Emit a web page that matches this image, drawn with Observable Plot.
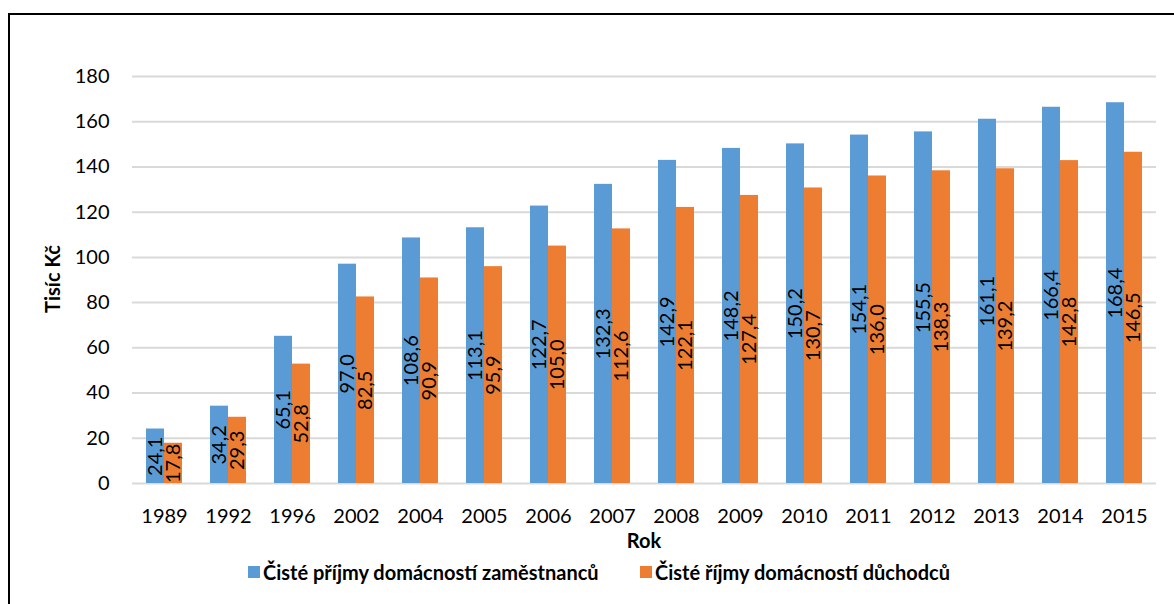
<!DOCTYPE html>
<html>
<head>
<meta charset="utf-8">
<script src="https://cdn.jsdelivr.net/npm/d3@7"></script>
<script src="https://cdn.jsdelivr.net/npm/@observablehq/plot@0.6"></script>
<style>
  html, body { margin: 0; padding: 0; background: #fff; }
  body { width: 1174px; height: 604px; position: relative; overflow: hidden; font-family: Lato, "Open Sans", sans-serif; }
  #frame { position: absolute; left: 8px; top: 13px; width: 1300px; height: 700px; border-left: 2px solid #000; border-top: 2px solid #000; box-sizing: border-box; }
  #chart { position: absolute; left: 0; top: 0; }
  #ylab { position: absolute; left: 52px; top: 279px; transform: translate(-50%, -50%) rotate(-90deg); font-weight: bold; font-size: 20px; white-space: nowrap; color: #000; }
  #xlab { position: absolute; left: 644px; top: 540px; transform: translate(-50%, -50%); font-weight: bold; font-size: 20px; color: #000; }
  .leg { position: absolute; top: 572px; transform: translateY(-50%); font-weight: bold; font-size: 20px; white-space: nowrap; display: flex; align-items: center; color: #000; }
  .sw { width: 12px; height: 12px; margin-right: 3px; display: inline-block; }
</style>
</head>
<body>
<div id="frame"></div>
<div id="chart"></div>
<div id="ylab">Tisíc Kč</div>
<div id="xlab">Rok</div>
<div id="legend"></div>
<script>
const years = ["1989","1992","1996","2002","2004","2005","2006","2007","2008","2009","2010","2011","2012","2013","2014","2015"];
const employees = [24.1, 34.2, 65.1, 97.0, 108.6, 113.1, 122.7, 132.3, 142.9, 148.2, 150.2, 154.1, 155.5, 161.1, 166.4, 168.4];
const pensioners = [17.8, 29.3, 52.8, 82.5, 90.9, 95.9, 105.0, 112.6, 122.1, 127.4, 130.7, 136.0, 138.3, 139.2, 142.8, 146.5];
const seriesNames = ["Čisté příjmy domácností zaměstnanců", "Čisté říjmy domácností důchodců"];
const seriesColors = ["#5B9BD5", "#ED7D31"];
const yTicks = [0, 20, 40, 60, 80, 100, 120, 140, 160, 180];

const data = [];
years.forEach((y, i) => {
  data.push({year: y, series: seriesNames[0], value: employees[i]});
  data.push({year: y, series: seriesNames[1], value: pensioners[i]});
});
const fmt = v => v.toFixed(1).replace(".", ",");

const chart = Plot.plot({
  width: 1174,
  height: 530,
  marginLeft: 131,
  marginRight: 17,
  marginTop: 76,
  marginBottom: 47,
  style: {fontFamily: "Lato, 'Open Sans', sans-serif", fontSize: "20px", color: "#000", background: "transparent"},
  fx: {domain: years, padding: 0, axis: "bottom", tickSize: 0, tickPadding: 25, label: null},
  x: {domain: seriesNames, axis: null, paddingInner: 0, paddingOuter: 0.73},
  y: {domain: [0, 180], ticks: yTicks, tickSize: 0, tickPadding: 23, label: null},
  color: {domain: seriesNames, range: seriesColors},
  marks: [
    Plot.ruleY(yTicks, {y: d => d, stroke: "#d9d9d9", strokeWidth: 2}),
    Plot.barY(data, {fx: "year", x: "series", y: "value", fill: "series", inset: 0}),
    Plot.text(data, {fx: "year", x: "series", y: d => d.value / 2, text: d => fmt(d.value), rotate: -90, fill: "#000", fontSize: 20})
  ]
});
document.getElementById("chart").appendChild(chart);

const legend = document.getElementById("legend");
const legX = [248, 640];
seriesNames.forEach((s, i) => {
  const el = document.createElement("div");
  el.className = "leg";
  el.style.left = legX[i] + "px";
  el.innerHTML = `<span class="sw" style="background:${seriesColors[i]}"></span>${s}`;
  legend.appendChild(el);
});
</script>
</body>
</html>
